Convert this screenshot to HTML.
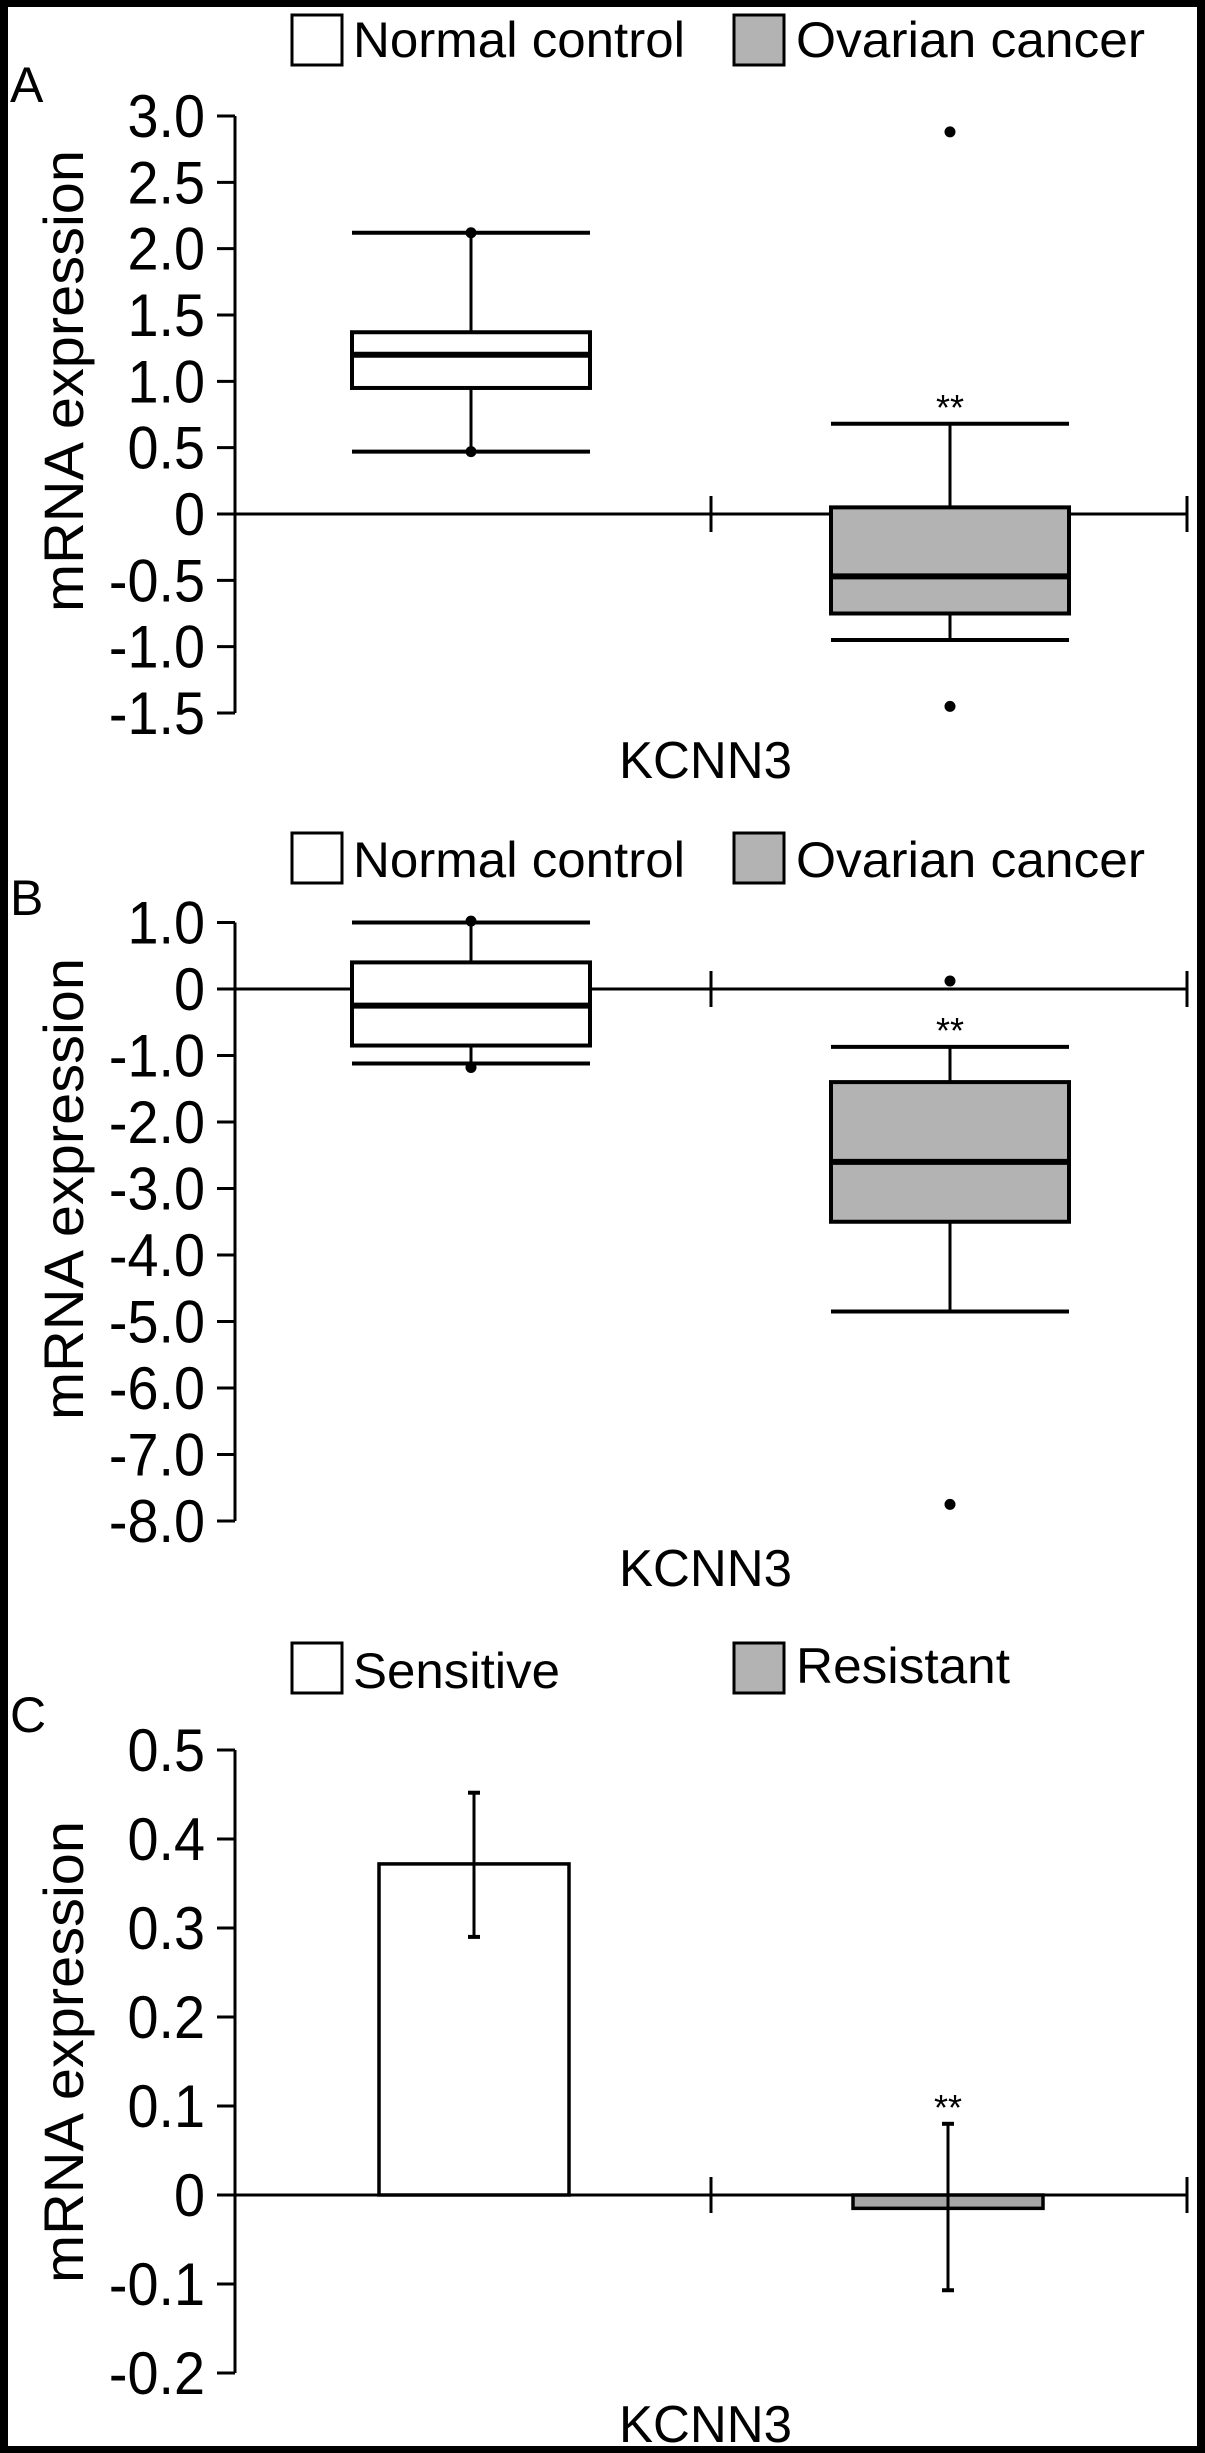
<!DOCTYPE html>
<html><head><meta charset="utf-8"><style>
html,body{margin:0;padding:0;background:#fff}
svg{display:block}
text{font-family:"Liberation Sans",Arial,sans-serif;fill:#000}
</style></head><body>
<svg id="fig" width="1205" height="2453" viewBox="0 0 1205 2453" xmlns="http://www.w3.org/2000/svg">
<rect x="4" y="3" width="1197" height="2447" fill="#fff" stroke="#000" stroke-width="8"/>
</svg>
<script>
// Panel A data
const aCategories = ["Normal control", "Ovarian cancer"];
const aWhiskerHigh = [2.12, 0.68];
const aQ3 = [1.37, 0.05];
const aMedian = [1.2, -0.47];
const aQ1 = [0.95, -0.75];
const aWhiskerLow = [0.47, -0.95];
const aOutliers = [[2.12, 0.47], [2.88, -1.45]];
const aTicks = [3.0, 2.5, 2.0, 1.5, 1.0, 0.5, 0, -0.5, -1.0, -1.5];
const aTickLabels = ["3.0","2.5","2.0","1.5","1.0","0.5","0","-0.5","-1.0","-1.5"];
// Panel B data
const bCategories = ["Normal control", "Ovarian cancer"];
const bWhiskerHigh = [1.0, -0.87];
const bQ3 = [0.4, -1.4];
const bMedian = [-0.25, -2.6];
const bQ1 = [-0.85, -3.5];
const bWhiskerLow = [-1.12, -4.85];
const bOutliers = [[1.02, -1.18], [0.12, -7.75]];
const bTicks = [1,0,-1,-2,-3,-4,-5,-6,-7,-8];
const bTickLabels = ["1.0","0","-1.0","-2.0","-3.0","-4.0","-5.0","-6.0","-7.0","-8.0"];
// Panel C data
const cCategories = ["Sensitive", "Resistant"];
const cValues = [0.372, -0.015];
const cErrHigh = [0.452, 0.08];
const cErrLow = [0.29, -0.107];
const cTicks = [0.5,0.4,0.3,0.2,0.1,0,-0.1,-0.2];
const cTickLabels = ["0.5","0.4","0.3","0.2","0.1","0","-0.1","-0.2"];

const svg = document.getElementById('fig');
const NS = 'http://www.w3.org/2000/svg';
function mk(tag, attrs, parent){
  const e = document.createElementNS(NS, tag);
  for (const k in attrs) e.setAttribute(k, attrs[k]);
  (parent||svg).appendChild(e);
  return e;
}
const AX = 235, AXR = 1187, AXM = 711;
const centers = [471, 950];
const boxW = 238;

function yScale(v0, p0, v1, p1){ return v => p0 + (v - v0) * (p1 - p0) / (v1 - v0); }

function axes(g, y, ticks, labels, zeroVal, name){
  const yTop = y(ticks[0]), yBot = y(ticks[ticks.length-1]);
  const ax = mk('line',{x1:AX,y1:yTop,x2:AX,y2:yBot,stroke:'#000','stroke-width':3},g);
  
  
  ticks.forEach((t,i)=>{
    const ty = y(t);
    const tk = mk('line',{x1:AX-18,y1:ty,x2:AX,y2:ty,stroke:'#000','stroke-width':3},g);
    
    
    const tl = mk('text',{transform:`translate(205,${ty+21}) scale(0.93,1)`,'text-anchor':'end','font-size':60},g);
    tl.textContent = labels[i];
    
    
  });
  const zy = y(zeroVal);
  const xa = mk('line',{x1:AX,y1:zy,x2:AXR,y2:zy,stroke:'#000','stroke-width':3},g);
  
  
  [AXM, AXR].forEach(x=>{
    const t = mk('line',{x1:x,y1:zy-18,x2:x,y2:zy+18,stroke:'#000','stroke-width':3},g);
    
    
  });
}
function legend(g, y0, labels, widths, textY){
  const bx = [292, 734], tx = [353, 796];
  for (let i=0;i<2;i++){
    const r = mk('rect',{x:bx[i],y:y0,width:50,height:50,fill:i?'#b3b3b3':'#fff',stroke:'#000','stroke-width':3},g);
    
    
    const t = mk('text',{x:tx[i],y:textY[i],'font-size':50,textLength:widths[i],lengthAdjust:'spacingAndGlyphs'},g);
    t.textContent = labels[i];
    
    
  }
}
function titles(g, letter, letterY, titleCY, kY){
  const l = mk('text',{x:10,y:letterY,'font-size':50},g);
  l.textContent = letter;
  
  
  const yt = mk('text',{transform:`translate(83,${titleCY}) rotate(-90)`,'text-anchor':'middle','font-size':56,textLength:462,lengthAdjust:'spacingAndGlyphs'},g);
  yt.textContent = 'mRNA expression';
  
  
  const xt = mk('text',{x:619,y:kY,'font-size':52,textLength:173,lengthAdjust:'spacingAndGlyphs'},g);
  xt.textContent = 'KCNN3';
  
  
}
function boxes(g, y, hi, q3, med, q1, lo, outs, name){
  for (let i=0;i<2;i++){
    const cx = centers[i], x0 = cx - boxW/2, x1 = cx + boxW/2;
    const bg = mk('g',{},g);
    
    
    mk('line',{x1:cx,y1:y(hi[i]),x2:cx,y2:y(q3[i]),stroke:'#000','stroke-width':3},bg);
    mk('line',{x1:cx,y1:y(q1[i]),x2:cx,y2:y(lo[i]),stroke:'#000','stroke-width':3},bg);
    mk('line',{x1:x0,y1:y(hi[i]),x2:x1,y2:y(hi[i]),stroke:'#000','stroke-width':4},bg);
    mk('line',{x1:x0,y1:y(lo[i]),x2:x1,y2:y(lo[i]),stroke:'#000','stroke-width':4},bg);
    mk('rect',{x:x0,y:y(q3[i]),width:boxW,height:y(q1[i])-y(q3[i]),fill:i?'#b3b3b3':'#fff',stroke:'#000','stroke-width':4},bg);
    mk('line',{x1:x0,y1:y(med[i]),x2:x1,y2:y(med[i]),stroke:'#000','stroke-width':6},bg);
    outs[i].forEach(v=>{
      const d = mk('circle',{cx:cx,cy:y(v),r:5.5,fill:'#000'},g);
      
      
    });
  }
  const st = mk('text',{x:centers[1],y:y(hi[1])-4,'text-anchor':'middle','font-size':36},g);
  st.textContent = '**';
  
  
}

// Panel A
const gA = mk('g',{});


const yA = yScale(0, 514, 3.0, 116);
legend(gA, 15, aCategories, [332, 349], [57, 57]);
titles(gA, 'A', 102, 381, 778);
axes(gA, yA, aTicks, aTickLabels, 0, 'a');
boxes(gA, yA, aWhiskerHigh, aQ3, aMedian, aQ1, aWhiskerLow, aOutliers, 'a');

// Panel B
const gB = mk('g',{});


const yB = yScale(0, 989, -8, 1521);
legend(gB, 833, bCategories, [332, 349], [877, 877]);
titles(gB, 'B', 915, 1189, 1586);
axes(gB, yB, bTicks, bTickLabels, 0, 'b');
boxes(gB, yB, bWhiskerHigh, bQ3, bMedian, bQ1, bWhiskerLow, bOutliers, 'b');

// Panel C
const gC = mk('g',{});


const yC = yScale(0, 2195, 0.5, 1750);
legend(gC, 1643, cCategories, [207, 214], [1688, 1683]);
titles(gC, 'C', 1732, 2052, 2442);
const cCenters = [474, 948], barW = 190;
for (let i=0;i<2;i++){
  const y0 = yC(0), yv = yC(cValues[i]);
  const b = mk('rect',{x:cCenters[i]-barW/2,y:Math.min(y0,yv),width:barW,height:Math.abs(yv-y0),fill:i?'#a6a6a6':'#fff',stroke:'#000','stroke-width':3.5},gC);
  
  
}
axes(gC, yC, cTicks, cTickLabels, 0, 'c');
for (let i=0;i<2;i++){
  const cx = cCenters[i];
  const eg = mk('g',{},gC);
  
  
  mk('line',{x1:cx,y1:yC(cErrHigh[i]),x2:cx,y2:yC(cErrLow[i]),stroke:'#000','stroke-width':3},eg);
  mk('line',{x1:cx-6,y1:yC(cErrHigh[i]),x2:cx+6,y2:yC(cErrHigh[i]),stroke:'#000','stroke-width':4},eg);
  mk('line',{x1:cx-6,y1:yC(cErrLow[i]),x2:cx+6,y2:yC(cErrLow[i]),stroke:'#000','stroke-width':4},eg);
}
const sc = mk('text',{x:cCenters[1],y:yC(cErrHigh[1])-4,'text-anchor':'middle','font-size':36},gC);
sc.textContent = '**';


</script>
</body></html>
